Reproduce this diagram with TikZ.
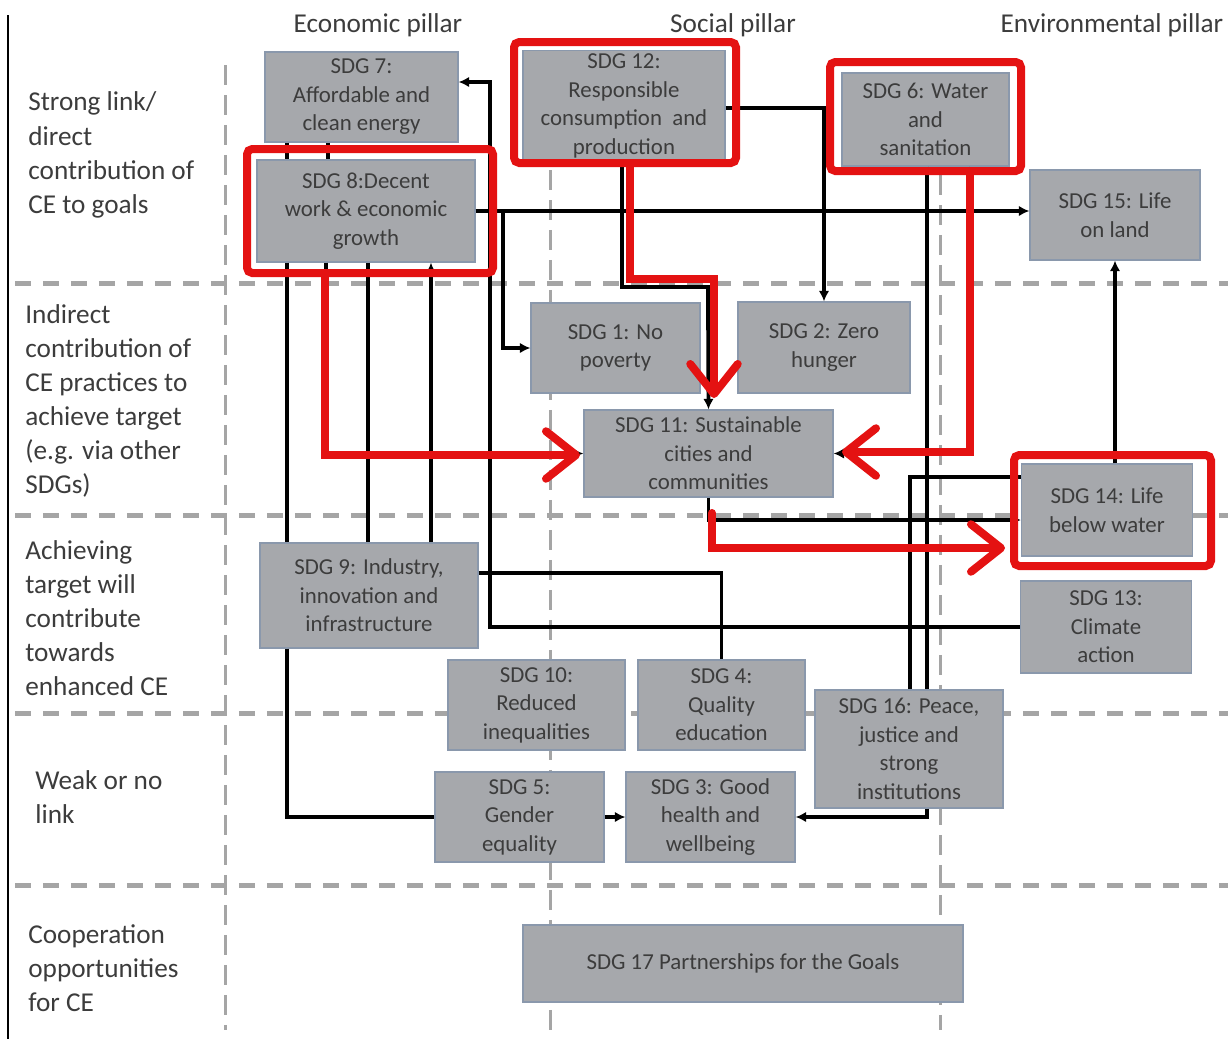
\documentclass[tikz,border=0pt]{standalone}
\usepackage{fontspec}
\setmainfont{Carlito}
\usetikzlibrary{arrows.meta}
\definecolor{boxfill}{RGB}{166,168,172}
\definecolor{boxline}{RGB}{138,152,172}
\definecolor{txt}{RGB}{60,60,60}
\definecolor{gridgray}{RGB}{165,165,165}
\definecolor{cered}{RGB}{228,18,18}
\tikzset{> = latex,
  sdg/.style={draw=boxline, fill=boxfill, line width=0.7pt, inner sep=0pt, align=center,
    text=txt, font=\fontsize{13}{16.2}\selectfont},
  rowlabel/.style={anchor=west, align=left, inner sep=0pt, text=txt, font=\fontsize{15.5}{19.4}\selectfont},
  pillar/.style={inner sep=0pt, text=txt, font=\fontsize{15.5}{19}\selectfont},
  hgrid/.style={gridgray, line width=0.1cm, dash pattern=on 0.32cm off 0.24cm},
  vgrid/.style={gridgray, line width=0.06cm, dash pattern=on 0.4cm off 0.2cm},
  link/.style={line width=2.2pt},
  redframe/.style={cered, line width=0.16cm, rounded corners=3pt},
  redarrow/.style={cered, line width=0.16cm, line cap=round,
    -{Straight Barb[length=0.6cm, width=0.95cm, round]}}
}

\begin{document}
\begin{tikzpicture}[x=0.02cm, y=-0.02cm]
	\useasboundingbox (0,0) rectangle (1228,1039);
	% grid of the rows and pillars
	\foreach \y in {283,515,713,885} \draw[hgrid] (15,\y) -- (1228,\y);
	\draw[vgrid] (225,65) -- (225,1030);
	\draw[vgrid] (550,170) -- (550,1030);
	\draw[vgrid] (940,175) -- (940,1030);
	\draw[line width=1pt] (8,15) -- (8,1039);
	
	\node[pillar] (econ) at (378,25) {Economic pillar};
	\node[pillar] (soc) at (733,25) {Social pillar};
	\node[pillar] (env) at (1112,25) {Environmental pillar};
	
	\node[rowlabel] (strong) at (28,155) {Strong link/\\direct\\contribution of\\CE to goals};
	\node[rowlabel] (indirect) at (25,401) {Indirect\\contribution of\\CE practices to\\achieve target\\(e.g. via other\\SDGs)};
	\node[rowlabel] (achieve) at (25,618) {Achieving\\target will\\contribute\\towards\\enhanced CE};
	\node[rowlabel] (weak) at (35,797) {Weak or no\\link};
	\node[rowlabel] (coop) at (28,968) {Cooperation\\opportunities\\for CE};
	
	% goals
	\node[sdg, minimum width=3.86cm, minimum height=1.8cm] (sdg7) at (361.5,97) {SDG 7:\\Affordable and\\clean energy};
	\node[sdg, minimum width=4.36cm, minimum height=2.04cm] (sdg8) at (366,211) {SDG 8:Decent\\work \& economic\\growth};
	\node[sdg, minimum width=4.04cm, minimum height=2.22cm] (sdg12) at (624,106) {SDG 12:\\Responsible\\consumption~ and\\production};
	\node[sdg, minimum width=3.34cm, minimum height=1.86cm] (sdg6) at (925.5,119.5) {SDG 6: Water\\and\\sanitation};
	\node[sdg, minimum width=3.4cm, minimum height=1.8cm] (sdg15) at (1115,215) {SDG 15: Life\\on land};
	\node[sdg, minimum width=3.38cm, minimum height=1.8cm] (sdg1) at (615.5,348) {SDG 1: No\\poverty};
	\node[sdg, minimum width=3.44cm, minimum height=1.82cm] (sdg2) at (824,347.5) {SDG 2: Zero\\hunger};
	\node[sdg, minimum width=4.98cm, minimum height=1.74cm] (sdg11) at (708.5,453.5) {SDG 11: Sustainable\\cities and\\communities};
	\node[sdg, minimum width=3.42cm, minimum height=1.84cm] (sdg14) at (1107,510) {SDG 14: Life\\below water};
	\node[sdg, minimum width=4.36cm, minimum height=2.1cm] (sdg9) at (369,595.5) {SDG 9: Industry,\\innovation and\\infrastructure};
	\node[sdg, minimum width=3.42cm, minimum height=1.84cm] (sdg13) at (1106,627) {SDG 13:\\Climate\\action};
	\node[sdg, minimum width=3.54cm, minimum height=1.8cm] (sdg10) at (536.5,705) {SDG 10:\\Reduced\\inequalities};
	\node[sdg, minimum width=3.34cm, minimum height=1.8cm] (sdg4) at (721.5,705) {SDG 4:\\Quality\\education};
	\node[sdg, minimum width=3.76cm, minimum height=2.36cm] (sdg16) at (909,749) {SDG 16: Peace,\\justice and\\strong\\institutions};
	\node[sdg, minimum width=3.38cm, minimum height=1.8cm] (sdg5) at (519.5,817) {SDG 5:\\Gender\\equality};
	\node[sdg, minimum width=3.38cm, minimum height=1.8cm] (sdg3) at (710.5,817) {SDG 3: Good\\health and\\wellbeing};
	\node[sdg, minimum width=8.8cm, minimum height=1.54cm] (sdg17) at (743,963.5) {SDG 17 Partnerships for the Goals};
	
	% links without tips
	\begin{scope}[link]
		\draw (sdg7.south -| 287,0) -- (sdg8.north -| 287,0);
		\draw (sdg7.south -| 328,0) -- (sdg8.north -| 328,0);
		\draw (sdg8.south -| 287,0) -- (sdg9.north -| 287,0);
		\draw (sdg8.south -| 368,0) -- (sdg9.north -| 368,0);
		\draw (sdg9.south -| 287,0) |- (sdg5.west);
		\draw (sdg9.east |- 0,573) -| (sdg4.north);
		\draw (sdg6.south -| 927,0) -- (sdg16.north -| 927,0);
		\draw (sdg14.west |- 0,477) -| (sdg16.north -| 910,0);
	\end{scope}
	% links with tips
	\begin{scope}[link, arrows = {-Latex[length=6pt, width=6pt]}]
		\draw (sdg9.north -| 431,0) -- (sdg8.south -| 431,0);
		\draw (sdg8.east) -- (sdg8.east -| sdg15.west);
		\draw (sdg8.east) -- (503,211) |- (sdg1.west);
		\draw (sdg12.east |- 0,108) -| (sdg2.north);
		\draw (sdg12.south -| 622,0) |- (708,287) -- (sdg11.north);
		\draw (sdg8.south -| 326,0) |- (sdg11.west);
		\draw (sdg6.south -| 968,0) |- (sdg11.east);
		\draw (sdg11.south) |- (sdg14.west |- 0,520);
		\draw (sdg14.north -| sdg15.south) -- (sdg15.south);
		\draw (sdg13.west) -| (490,82) -- (sdg7.east |- 0,82);
		\draw (sdg16.south -| 927,0) |- (sdg3.east);
		\draw (sdg5.east) -- (sdg3.west);
	\end{scope}
	
	% highlighted goals and paths
	\draw[redframe] (247,149) rectangle (493,273);
	\draw[redframe] (514,42) rectangle (736,163);
	\draw[redframe] (830,62) rectangle (1021,171);
	\draw[redframe] (1014,455) rectangle (1211,566);
	\draw[redarrow] (325,273) |- (580,455);
	\draw[redarrow] (630,163) |- (714,279) -- (714,398);
	\draw[redarrow] (970,171) |- (842,452);
	\draw[redarrow] (712,513) |- (1005,548);
\end{tikzpicture}
\end{document}
